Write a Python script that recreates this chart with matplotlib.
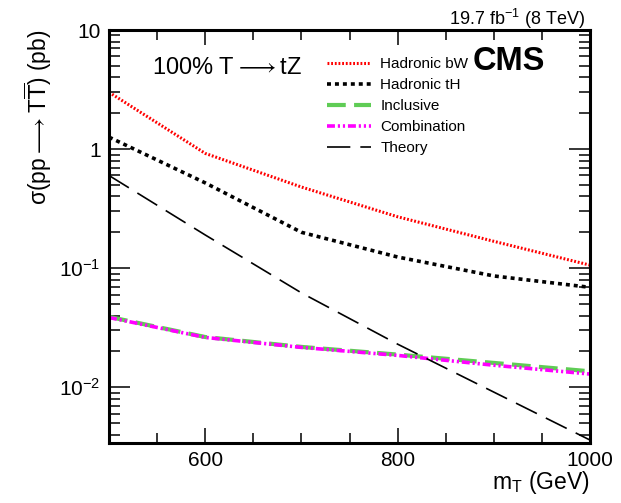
import matplotlib
matplotlib.use("Agg")
import matplotlib.pyplot as plt
from matplotlib.ticker import FixedLocator, MultipleLocator, LogLocator, FixedFormatter, NullFormatter

plt.rcParams['font.family'] = ['Liberation Sans', 'DejaVu Sans']
plt.rcParams['mathtext.fontset'] = 'custom'
plt.rcParams['mathtext.rm'] = 'Liberation Sans'
plt.rcParams['mathtext.it'] = 'Liberation Sans:italic'
plt.rcParams['mathtext.bf'] = 'Liberation Sans:bold'
plt.rcParams['mathtext.default'] = 'regular'

# Vector-like quark mass points (GeV)
masses = [500, 600, 700, 800, 900, 1000]

# Expected 95% CL upper limits on the pair-production cross section (pb)
hadronic_bw = [3.0, 0.92, 0.48, 0.27, 0.168, 0.106]
hadronic_th = [1.26, 0.52, 0.20, 0.124, 0.086, 0.069]
inclusive = [0.039, 0.0264, 0.0218, 0.0188, 0.0160, 0.0136]
combination = [0.0385, 0.0262, 0.0216, 0.0185, 0.0153, 0.0129]
theory = [0.60, 0.19, 0.062, 0.023, 0.0091, 0.0036]

labels = ["Hadronic bW", "Hadronic tH", "Inclusive", "Combination", "Theory"]

W, H = 621, 503
fig = plt.figure(figsize=(W / 100, H / 100), dpi=100)
ax = fig.add_axes([109 / W, 1 - 443 / H, (590 - 109) / W, (443 - 30) / H])

ax.plot(masses, hadronic_bw, color='#ff0000', lw=2.2, linestyle=(0, (0.6, 0.6)), label=labels[0])
ax.plot(masses, hadronic_th, color='black', lw=2.6, linestyle=(0, (1.1, 1.1)), label=labels[1])
ax.plot(masses, inclusive, color='#5fcc55', lw=3.0, linestyle=(0, (4.5, 2.0)), label=labels[2])
ax.plot(masses, combination, color='#ff00ff', lw=2.6, linestyle=(0, (2.2, 0.8, 0.6, 0.8, 0.6, 0.8)), label=labels[3])
ax.plot(masses, theory, color='black', lw=1.2, linestyle=(0, (14, 6)), label=labels[4])

ax.set_yscale('log')
ax.set_xlim(500, 1000)
ax.set_ylim(0.0034, 10)

ax.xaxis.set_major_locator(FixedLocator([600, 800, 1000]))
ax.xaxis.set_minor_locator(MultipleLocator(50))
ax.yaxis.set_major_locator(FixedLocator([1e-2, 1e-1, 1, 10]))
ax.yaxis.set_major_formatter(FixedFormatter([r'$10^{-2}$', r'$10^{-1}$', '1', '10']))
ax.yaxis.set_minor_locator(LogLocator(base=10, subs=range(2, 10), numticks=20))
ax.yaxis.set_minor_formatter(NullFormatter())

for s in ax.spines.values():
    s.set_linewidth(2.2)
ax.tick_params(which='both', direction='in', top=True, right=True, width=1.1, labelsize=15)
ax.tick_params(axis='x', which='major', length=11, pad=6)
ax.tick_params(axis='x', which='minor', length=7)
ax.tick_params(axis='y', which='major', length=15, pad=6)
ax.tick_params(axis='y', which='minor', length=8)

ax.set_xlabel(r'm$_{\rm T}$ (GeV)', fontsize=16.5, loc='right')
ax.xaxis.set_label_coords(1.0, (443 - 469) / 413)
ax.set_ylabel(r'σ(pp$\longrightarrow$T$\overline{\rm T}$) (pb)', fontsize=16.5, loc='top', labelpad=4,
              math_fontfamily='dejavusans')

fig.text(585 / W, 1 - 25 / H, r'19.7 fb$^{-1}$ (8 TeV)', ha='right', va='baseline', fontsize=13)
fig.text(152 / W, 1 - 68 / H, r'100% T$\longrightarrow$tZ', ha='left', va='center', fontsize=17,
         math_fontfamily='dejavusans')
fig.text(473 / W, 1 - 61 / H, 'CMS', ha='left', va='center', fontsize=23.5, fontweight='bold')

ax.legend(loc='upper left', bbox_to_anchor=(327 / W, 1 - 57 / H), bbox_transform=fig.transFigure,
          frameon=False, fontsize=11, handlelength=2.9, handletextpad=0.6,
          labelspacing=0.46, borderpad=0, borderaxespad=0)

fig.savefig('out.png', dpi=100)
